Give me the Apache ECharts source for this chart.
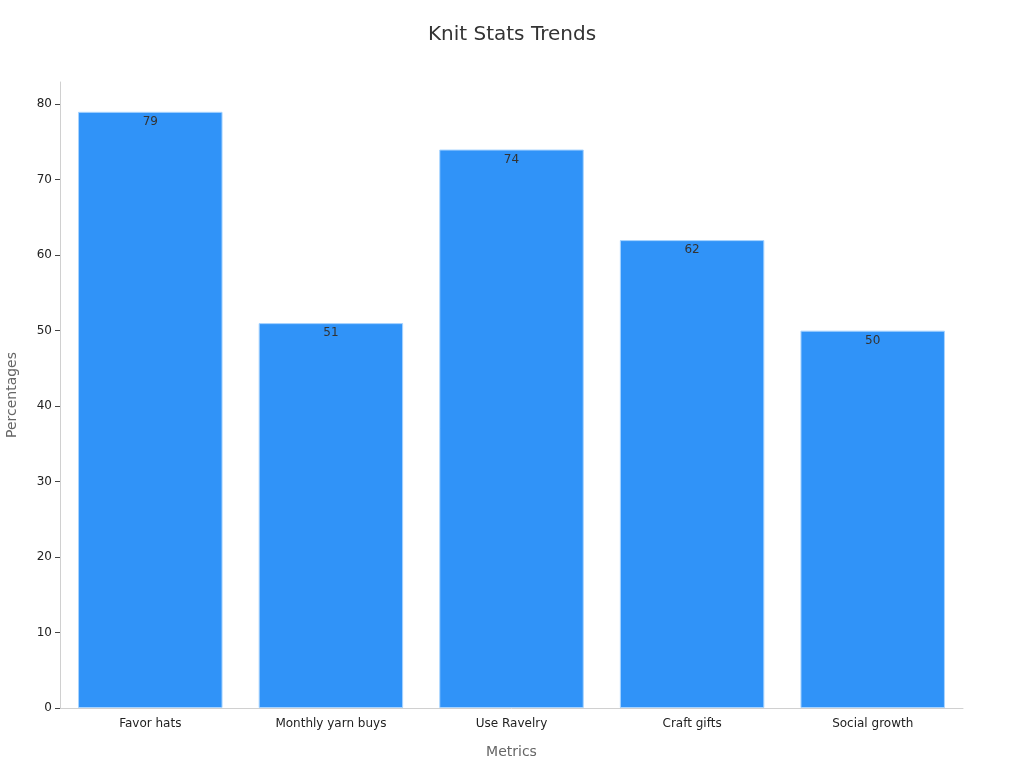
<!DOCTYPE html>
<html>
<head>
<meta charset="utf-8">
<script src="https://cdn.jsdelivr.net/npm/echarts@6/dist/echarts.min.js"></script>
<style>html,body{margin:0;padding:0;background:#fff}#c{width:1024px;height:768px}</style>
</head>
<body>
<div id="c"></div>
<script>
var categories = ['Favor hats', 'Monthly yarn buys', 'Use Ravelry', 'Craft gifts', 'Social growth'];
var values = [79, 51, 74, 62, 50];
var yTicks = [0, 10, 20, 30, 40, 50, 60, 70, 80];

var chart = echarts.init(document.getElementById('c'));
chart.setOption({
  backgroundColor: '#fff',
  textStyle: { fontFamily: 'DejaVu Sans' },
  title: {
    text: 'Knit Stats Trends', left: 'center', top: 20,
    textStyle: { fontSize: 20, fontWeight: 'normal', color: '#333', fontFamily: 'DejaVu Sans' }
  },
  grid: { left: 60, right: 61, top: 82, bottom: 60, containLabel: false, outerBoundsMode: 'none' },
  xAxis: {
    type: 'category', data: categories,
    name: 'Metrics', nameLocation: 'middle', nameGap: 37,
    nameTextStyle: { color: '#666', fontSize: 14 },
    axisLine: { lineStyle: { color: '#d0d0d0' } },
    axisTick: { alignWithLabel: true, length: 5, lineStyle: { color: '#444' } },
    axisLabel: { color: '#222', fontSize: 12, margin: 10 }
  },
  yAxis: {
    type: 'value', min: 0, max: 82.95, interval: 10,
    name: 'Percentages', nameLocation: 'middle', nameGap: 41,
    nameTextStyle: { color: '#666', fontSize: 14 },
    axisLine: { show: true, lineStyle: { color: '#d0d0d0' } },
    axisTick: { show: true, length: 5, customValues: yTicks, lineStyle: { color: '#444' } },
    axisLabel: { color: '#222', fontSize: 12, customValues: yTicks },
    splitLine: { show: false }
  },
  series: [{
    type: 'bar', data: values, barWidth: '80%',
    itemStyle: { color: '#3093F8', borderColor: '#a8d4ff', borderWidth: 1 },
    label: { show: true, position: 'insideTop', color: '#333', fontSize: 12, distance: 4 }
  }]
});
</script>
</body>
</html>
